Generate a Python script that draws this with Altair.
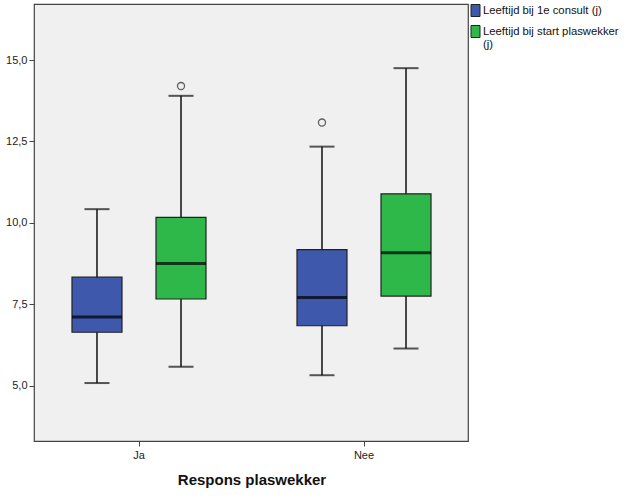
import altair as alt
import pandas as pd

S1 = "Leeftijd bij 1e consult (j)"
S2 = "Leeftijd bij start plaswekker (j)"

categories = ["Ja", "Ja", "Nee", "Nee"]
series = [S1, S2, S1, S2]
whisker_low = [5.08, 5.58, 5.32, 6.14]
q1 = [6.64, 7.66, 6.84, 7.75]
median = [7.11, 8.75, 7.71, 9.08]
q3 = [8.33, 10.17, 9.18, 10.89]
whisker_high = [10.42, 13.90, 12.34, 14.75]

out_cat = ["Ja", "Nee"]
out_series = [S2, S1]
out_value = [14.20, 13.08]

df = pd.DataFrame({
    "cat": categories, "series": series, "lo": whisker_low, "q1": q1,
    "med": median, "q3": q3, "hi": whisker_high,
})
dfo = pd.DataFrame({"cat": out_cat, "series": out_series, "v": out_value})

FONT = "Liberation Sans"

x_enc = alt.X("cat:N", title="Respons plaswekker",
              scale=alt.Scale(range=[-7.5, 442.5], paddingInner=0, paddingOuter=0),
              axis=alt.Axis(labelAngle=0, labelFont=FONT, labelFontSize=11, labelColor="#222",
                            titleFont=FONT, titleFontSize=15, titleFontWeight="bold",
                            titleColor="#111", titlePadding=12, tickSize=5, tickColor="#444",
                            domain=False, grid=False, labelPadding=3))
xo = alt.XOffset("series:N", scale=alt.Scale(domain=[S1, S2], paddingInner=0, paddingOuter=0.339))
y_scale = alt.Scale(domain=[3.3, 16.72], nice=False, zero=False)
y_axis = alt.Axis(values=[5, 7.5, 10, 12.5, 15], labelExpr="replace(format(datum.value, '.1f'), '.', ',')",
                  labelFont=FONT, labelFontSize=11, labelColor="#222", tickSize=5,
                  tickColor="#444", domain=False, grid=False, title=None, labelPadding=2)

color = alt.Color("series:N", scale=alt.Scale(domain=[S1, S2], range=["#3E58AC", "#2EB84A"]),
                  legend=alt.Legend(title=None, orient="none", legendX=435, legendY=0,
                                    symbolType="M-0.75,-1H0.75V1H-0.75Z", symbolSize=144,
                                    symbolStrokeColor="#222",
                                    symbolStrokeWidth=1, labelFont=FONT, labelFontSize=11.3,
                                    labelColor="#111", labelOffset=1, rowPadding=4,
                                    labelLimit=200, labelBaseline="middle",
                                    labelExpr="datum.label == '" + S2 + "' ? ['Leeftijd bij start plaswekker', '(j)'] : datum.label"))

base = alt.Chart(df)
whisk = base.mark_rule(color="#111", strokeWidth=1.5).encode(
    x=x_enc, xOffset=xo, y=alt.Y("lo:Q", scale=y_scale, axis=y_axis), y2="hi:Q")
boxes = base.mark_bar(size=50, stroke="#222", strokeWidth=1.2).encode(
    x=x_enc, xOffset=xo, y=alt.Y("q1:Q", scale=y_scale, axis=y_axis), y2="q3:Q", color=color)
med = base.mark_tick(size=50, thickness=3, color="#000").encode(
    x=x_enc, xOffset=xo, y=alt.Y("med:Q", scale=y_scale, axis=y_axis))
cap_lo = base.mark_tick(size=25, thickness=2, color="#111").encode(
    x=x_enc, xOffset=xo, y=alt.Y("lo:Q", scale=y_scale, axis=y_axis))
cap_hi = base.mark_tick(size=25, thickness=2, color="#111").encode(
    x=x_enc, xOffset=xo, y=alt.Y("hi:Q", scale=y_scale, axis=y_axis))
outl = alt.Chart(dfo).mark_point(shape="circle", size=50, filled=False, color="#222", strokeWidth=1.3).encode(
    x=x_enc, xOffset=xo, y=alt.Y("v:Q", scale=y_scale, axis=y_axis))

chart = alt.layer(whisk, boxes, med, cap_lo, cap_hi, outl).properties(
    width=434, height=437,
    autosize=alt.AutoSizeParams(type="none"),
    padding={"left": 34, "top": 4, "right": 158, "bottom": 60},
    background="white",
).configure_view(fill="#F0F0F0", stroke="#444", strokeWidth=1.2)

chart.save("out.html", embed_options={"renderer": "svg", "actions": False})
